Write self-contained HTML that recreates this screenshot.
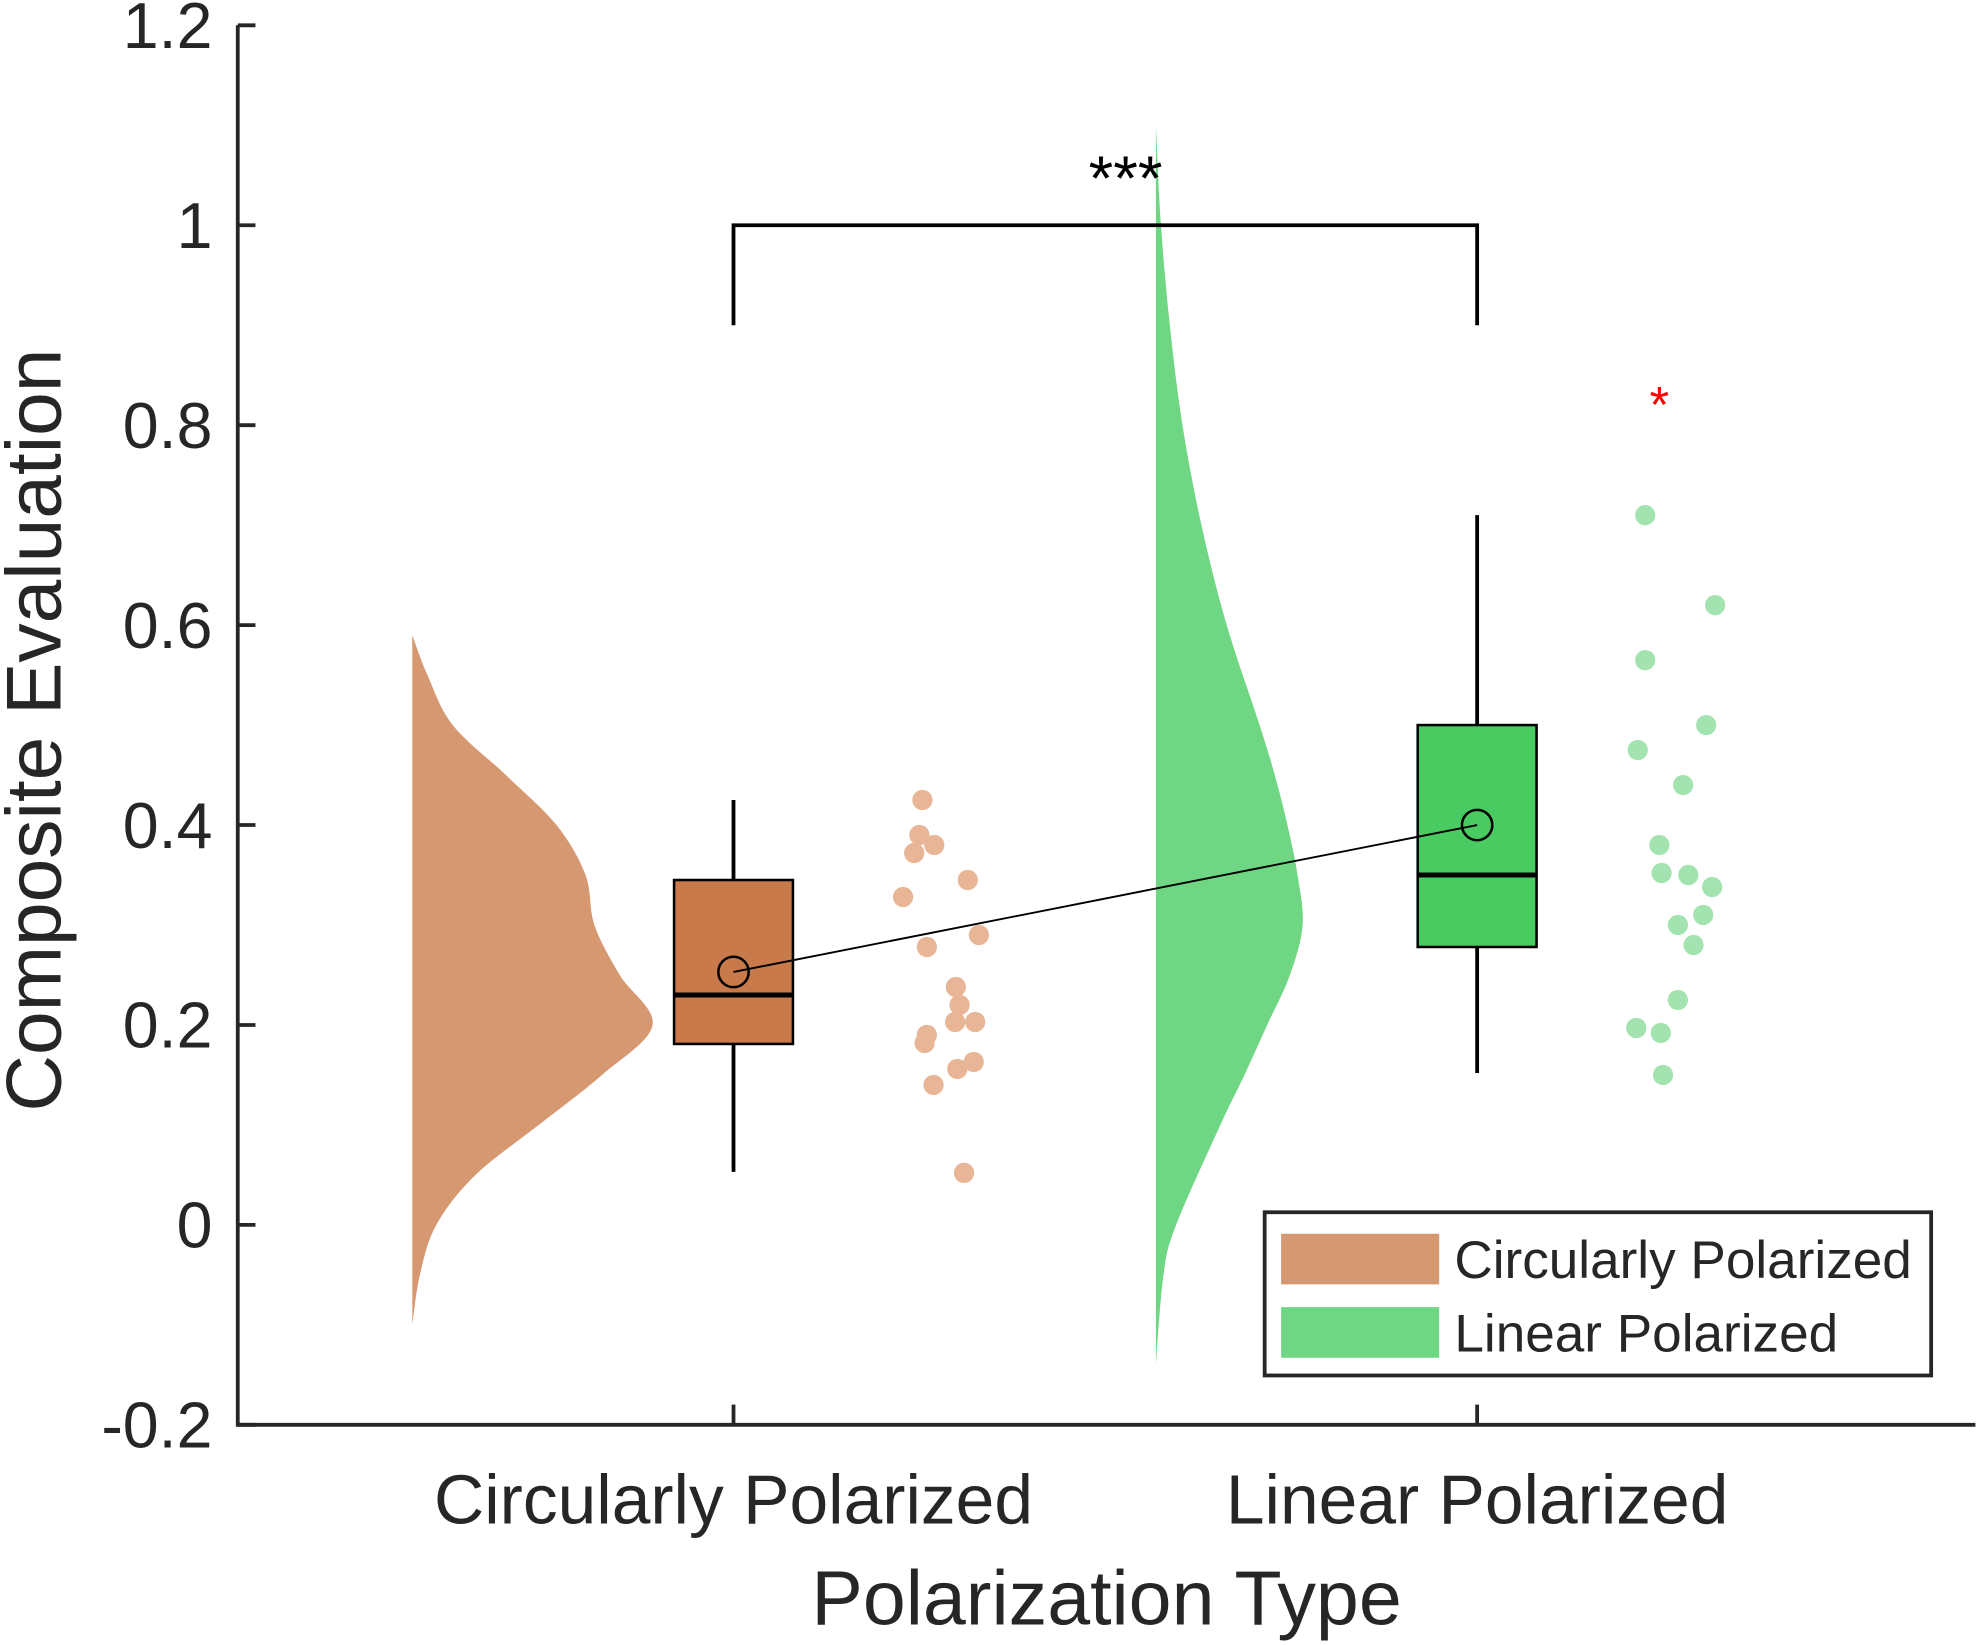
<!DOCTYPE html>
<html><head><meta charset="utf-8"><style>
html,body{margin:0;padding:0;background:#fff}
svg{display:block}
text{font-family:"Liberation Sans",Arial,sans-serif;fill:#262626}
</style></head><body>
<svg id="chart" width="1983" height="1645" viewBox="0 0 1568 1300" preserveAspectRatio="none" xmlns="http://www.w3.org/2000/svg">
<g id="plot"></g>
</svg>
<script>
const categories = ["Circularly Polarized", "Linear Polarized"];
const yTicks = [-0.2, 0, 0.2, 0.4, 0.6, 0.8, 1, 1.2];
const yTickLabels = ["-0.2", "0", "0.2", "0.4", "0.6", "0.8", "1", "1.2"];
const circDensV = [-0.1,-0.05,0,0.05,0.1,0.15,0.2,0.25,0.3,0.35,0.4,0.45,0.5,0.55,0.59];
const circDensW = [0,6,19,50,100,150,190,164,144,137,114,74,32,12,0];
const linDensV = [-0.14,-0.05,0,0.1,0.15,0.2,0.25,0.3,0.35,0.4,0.45,0.5,0.6,0.7,0.8,0.9,1.0,1.1];
const linDensW = [0,6,16,51,70,88,106,116,112,104,94,82,56,36,21,11,4,0];
const boxQ1 = [0.181, 0.278];
const boxQ3 = [0.345, 0.5];
const boxMedian = [0.23, 0.35];
const whiskerLow = [0.053, 0.152];
const whiskerHigh = [0.425, 0.71];
const means = [0.253, 0.4];
const circDotsV = [0.425,0.39,0.38,0.372,0.345,0.328,0.278,0.29,0.238,0.22,0.203,0.203,0.19,0.182,0.163,0.156,0.14,0.052];
const circDotsJ = [0.254,0.250,0.270,0.243,0.315,0.228,0.260,0.330,0.299,0.304,0.298,0.325,0.260,0.257,0.323,0.301,0.269,0.310];
const linDotsV = [0.71,0.62,0.565,0.5,0.475,0.44,0.38,0.352,0.35,0.338,0.31,0.3,0.28,0.225,0.197,0.192,0.15];
const linDotsJ = [0.226,0.320,0.226,0.308,0.216,0.277,0.245,0.248,0.284,0.316,0.304,0.270,0.291,0.270,0.214,0.247,0.250];
const outlierV = [0.826];
const outlierJ = [0.245];

const NS="http://www.w3.org/2000/svg";
const g=document.getElementById('plot');
const X=i=>580+i*588;
const Y=v=>968-v*790;
function mk(tag,attrs,parent){const e=document.createElementNS(NS,tag);for(const k in attrs)e.setAttribute(k,attrs[k]);(parent||g).appendChild(e);return e;}

// violins (smooth Catmull-Rom)
function violin(vs,ws,x0,fill,name){
  const pts=vs.map((v,i)=>[x0+ws[i],Y(v)]);
  let d=`M${x0},${pts[0][1]} L${pts[0][0]},${pts[0][1]}`;
  for(let i=0;i<pts.length-1;i++){
    const p0=pts[Math.max(0,i-1)],p1=pts[i],p2=pts[i+1],p3=pts[Math.min(pts.length-1,i+2)];
    const c1=[p1[0]+(p2[0]-p0[0])/6,p1[1]+(p2[1]-p0[1])/6];
    const c2=[p2[0]-(p3[0]-p1[0])/6,p2[1]-(p3[1]-p1[1])/6];
    d+=` C${c1[0]},${c1[1]} ${c2[0]},${c2[1]} ${p2[0]},${p2[1]}`;
  }
  d+=` L${x0},${pts[pts.length-1][1]} Z`;
  const p=mk('path',{d:d,fill:fill,stroke:'none'});
  
  
}
violin(circDensV,circDensW,326,'#d69870','violin-circularly-polarized');
violin(linDensV,linDensW,914,'#6fd683','violin-linear-polarized');

// dots
function dots(vs,js,i,fill,name){
  for(let k=0;k<vs.length;k++){
    const c=mk('circle',{cx:X(i+js[k]),cy:Y(vs[k]),r:8,fill:fill});
    
    
  }
}
dots(circDotsV,circDotsJ,0,'#e8b596','dot-circularly-polarized');
dots(linDotsV,linDotsJ,1,'#a3e3b0','dot-linear-polarized');
for(let k=0;k<outlierV.length;k++){
  const t=mk('text',{x:X(1+outlierJ[k]),y:Y(outlierV[k])+18,'text-anchor':'middle','font-size':40,style:'fill:#ff0000'});
  t.textContent='*';
  
  
}

// boxes
const boxFill=['#c87a4a','#4acb62'];
for(let i=0;i<2;i++){
  const x=X(i);
  const wl=mk('line',{x1:x,x2:x,y1:Y(whiskerLow[i]),y2:Y(boxQ1[i]),stroke:'#000','stroke-width':3});
  
  
  const wh=mk('line',{x1:x,x2:x,y1:Y(whiskerHigh[i]),y2:Y(boxQ3[i]),stroke:'#000','stroke-width':3});
  
  
  const r=mk('rect',{x:x-47,y:Y(boxQ3[i]),width:94,height:Y(boxQ1[i])-Y(boxQ3[i]),fill:boxFill[i],stroke:'#000','stroke-width':2});
  
  
  const m=mk('line',{x1:x-47,x2:x+47,y1:Y(boxMedian[i]),y2:Y(boxMedian[i]),stroke:'#000','stroke-width':4});
  
  
}
const ml=mk('line',{x1:X(0),y1:Y(means[0]),x2:X(1),y2:Y(means[1]),stroke:'#000','stroke-width':1.5});


for(let i=0;i<2;i++){
  const c=mk('circle',{cx:X(i),cy:Y(means[i]),r:12,fill:'none',stroke:'#000','stroke-width':2});
  
  
}

// bracket
const br=mk('path',{d:`M${X(0)},${Y(0.9)} L${X(0)},${Y(1)} L${X(1)},${Y(1)} L${X(1)},${Y(0.9)}`,fill:'none',stroke:'#000','stroke-width':3});


const st=mk('text',{x:(X(0)+X(1))/2+16,y:Y(1)-20,'text-anchor':'middle','font-size':50,style:'fill:#000'});
st.textContent='***';



// axes
const ax=mk('path',{d:`M188,${Y(1.2)} L188,${Y(-0.2)} L1562,${Y(-0.2)}`,fill:'none',stroke:'#262626','stroke-width':3});


for(let k=0;k<yTicks.length;k++){
  const y=Y(yTicks[k]);
  const tl=mk('line',{x1:188,x2:202,y1:y,y2:y,stroke:'#262626','stroke-width':3});
  
  
  const t=mk('text',{x:168,y:y+18,'text-anchor':'end','font-size':51});
  t.textContent=yTickLabels[k];
  
  
}
for(let i=0;i<categories.length;i++){
  const tl=mk('line',{x1:X(i),x2:X(i),y1:Y(-0.2),y2:Y(-0.2)-16,stroke:'#262626','stroke-width':3});
  
  
  const t=mk('text',{x:X(i),y:1204,'text-anchor':'middle','font-size':55});
  t.textContent=categories[i];
  
  
}
const xt=mk('text',{x:875,y:1284,'text-anchor':'middle','font-size':61});
xt.textContent='Polarization Type';


const yt=mk('text',{x:0,y:0,'text-anchor':'middle','font-size':62,transform:'translate(48,577) rotate(-90)'});
yt.textContent='Composite Evaluation';



// legend
const lg=mk('g',{});


mk('rect',{x:1000,y:958,width:527,height:129,fill:'#fff',stroke:'#262626','stroke-width':3},lg);
const legCols=['#d69870','#6fd683'];
for(let i=0;i<2;i++){
  const sw=mk('rect',{x:1013,y:975+i*58,width:125,height:40,fill:legCols[i]},lg);
  
  
  const t=mk('text',{x:1150,y:1010+i*58,'font-size':42},lg);
  t.textContent=categories[i];
  
  
}
</script>
</body></html>
